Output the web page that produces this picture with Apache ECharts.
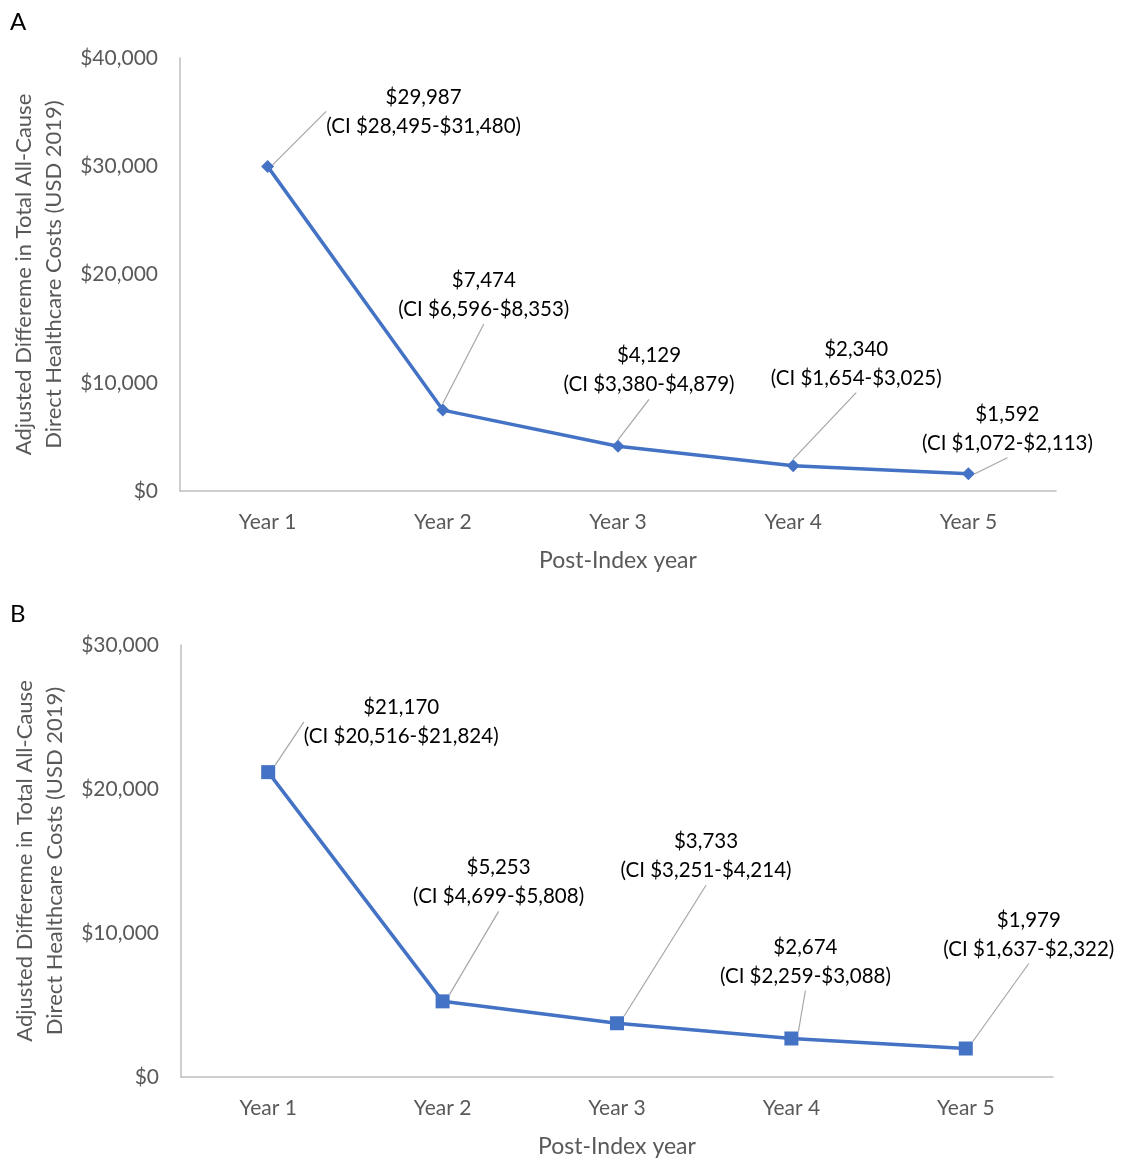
<!DOCTYPE html>
<html>
<head>
<meta charset="utf-8">
<script src="https://cdn.jsdelivr.net/npm/echarts@6/dist/echarts.min.js"></script>
<style>
html,body{margin:0;padding:0;background:#fff;}
#chart{width:1123px;height:1161px;}
</style>
</head>
<body>
<div id="chart"></div>
<script>
const categories = ['Year 1', 'Year 2', 'Year 3', 'Year 4', 'Year 5'];

const valuesA = [29987, 7474, 4129, 2340, 1592];
const ciLowA = [28495, 6596, 3380, 1654, 1072];
const ciHighA = [31480, 8353, 4879, 3025, 2113];

const valuesB = [21170, 5253, 3733, 2674, 1979];
const ciLowB = [20516, 4699, 3251, 2259, 1637];
const ciHighB = [21824, 5808, 4214, 3088, 2322];

const yTicksA = { min: 0, max: 40000, interval: 10000 };
const yTicksB = { min: 0, max: 30000, interval: 10000 };

// label layout offsets (pixels from point to label centre)
const labelOffsetsA = [[156, -55], [41, -115], [31, -76], [63, -102], [39, -45]];
const labelOffsetsB = [[133, -50], [56, -119], [89, -167], [14, -77], [63, -114]];

const FONT = 'Lato, "Open Sans", sans-serif';
const fmt = v => '$' + v.toLocaleString('en-US');
const yName = 'Adjusted Differeme in Total All-Cause\nDirect Healthcare Costs (USD 2019)';

function makeLabelFormatter(lo, hi) {
  return p => fmt(p.value) + '\n(CI ' + fmt(lo[p.dataIndex]) + '-' + fmt(hi[p.dataIndex]) + ')';
}

function xAxis(gridIndex) {
  return {
    type: 'category', gridIndex, data: categories,
    axisLine: { lineStyle: { color: '#bfbfbf', width: 1.5 } },
    axisTick: { show: false },
    axisLabel: { color: '#595959', fontSize: 21, fontFamily: FONT, margin: 21 },
    name: 'Post-Index year', nameLocation: 'middle', nameGap: 58,
    nameTextStyle: { color: '#595959', fontSize: 23, fontFamily: FONT }
  };
}
function yAxis(gridIndex, ticks) {
  return {
    type: 'value', gridIndex, min: ticks.min, max: ticks.max, interval: ticks.interval,
    splitLine: { show: false },
    axisLine: { show: true, lineStyle: { color: '#bfbfbf', width: 1.5 } },
    axisTick: { show: false },
    axisLabel: { color: '#595959', fontSize: 21, fontFamily: FONT, margin: 22, formatter: fmt },
    name: yName, nameLocation: 'middle', nameGap: 110, nameRotate: 90,
    nameTextStyle: { color: '#595959', fontSize: 22, fontFamily: FONT, lineHeight: 30 }
  };
}
function series(idx, values, lo, hi, symbol, symbolSize, offsets) {
  return {
    type: 'line', xAxisIndex: idx, yAxisIndex: idx, data: values,
    symbol, symbolSize, showAllSymbol: true,
    lineStyle: { color: '#4472C4', width: 3.5 },
    itemStyle: { color: '#4472C4' },
    label: {
      show: true, position: 'inside', color: '#000', fontSize: 20.5, fontFamily: FONT,
      lineHeight: 29, align: 'center', verticalAlign: 'middle',
      formatter: makeLabelFormatter(lo, hi)
    },
    labelLine: { show: true, lineStyle: { color: '#a6a6a6', width: 1.2 } },
    labelLayout: p => ({ dx: offsets[p.dataIndex][0], dy: offsets[p.dataIndex][1] }),
    emphasis: { disabled: true },
    animation: false
  };
}

const chart = echarts.init(document.getElementById('chart'));
chart.setOption({
  backgroundColor: '#fff',
  title: [
    { text: 'A', left: 5, top: 5, textStyle: { color: '#000', fontSize: 24, fontWeight: 'normal', fontFamily: FONT } },
    { text: 'B', left: 5, top: 597, textStyle: { color: '#000', fontSize: 24, fontWeight: 'normal', fontFamily: FONT } }
  ],
  grid: [
    { left: 180, top: 58, width: 876, height: 433, outerBoundsMode: 'none', containLabel: false },
    { left: 181, top: 645, width: 872, height: 432, outerBoundsMode: 'none', containLabel: false }
  ],
  xAxis: [xAxis(0), xAxis(1)],
  yAxis: [yAxis(0, yTicksA), yAxis(1, yTicksB)],
  series: [
    series(0, valuesA, ciLowA, ciHighA, 'diamond', 13, labelOffsetsA),
    series(1, valuesB, ciLowB, ciHighB, 'rect', 14, labelOffsetsB)
  ]
});
</script>
</body>
</html>
